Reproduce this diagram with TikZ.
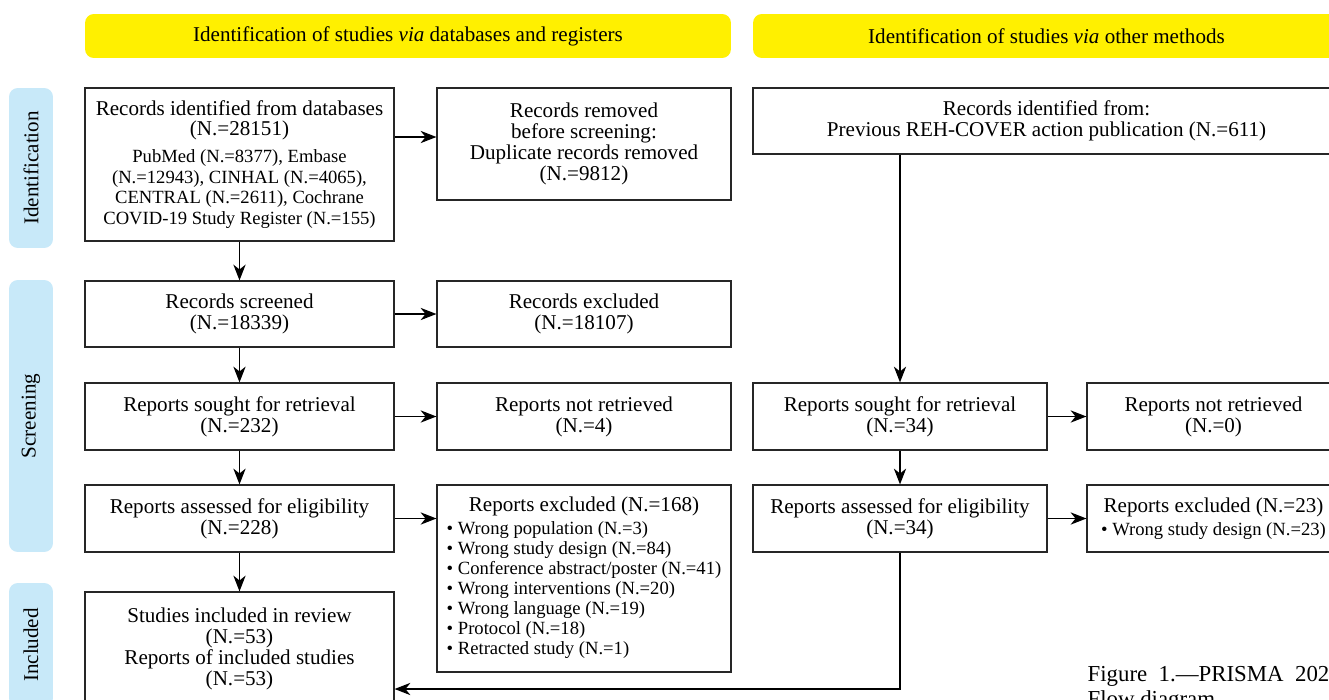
\documentclass[tikz,border=0pt]{standalone}
\usepackage{fontspec}
\setmainfont{Liberation Serif}
\usetikzlibrary{arrows.meta,positioning,calc}
\definecolor{headyellow}{RGB}{255,240,0}
\definecolor{sideblue}{RGB}{200,233,249}
\newcommand{\smalltxt}{\fontsize{10.6}{11.4}\selectfont}

\begin{document}
\begin{tikzpicture}[x=0.02cm, y=-0.02cm, line width=0.7pt, >={Stealth[length=9pt,width=7pt,inset=2.8pt]},
  main node/.style={rectangle,draw=black!85,align=center,inner sep=2pt,font=\fontsize{12}{11.9}\selectfont},
  head node/.style={rectangle,rounded corners=5pt,fill=headyellow,minimum height=0.88cm,font=\fontsize{12}{12}\selectfont},
  side node/.style={rectangle,rounded corners=5pt,fill=sideblue,rotate=90,minimum height=0.88cm,font=\fontsize{12}{12}\selectfont}]
\useasboundingbox (0,0) rectangle (1329,700);
\begin{scope}
\node[head node, minimum width=12.92cm] (headL) at (408,36) {Identification of studies \textit{via} databases and registers};
\node[head node, minimum width=11.74cm] (headR) at (1046.5,36) {Identification of studies \textit{via} other methods};
\node[side node, minimum width=3.2cm] (sideId) at (31,168) {Identification};
\node[side node, minimum width=5.44cm] (sideScr) at (31,416) {Screening};
\node[side node, minimum width=2.48cm] (sideInc) at (31,645) {Included};
% databases and registers
\node[main node, minimum width=6.18cm, minimum height=3.06cm] (ident) at (239.5,164.5) {Records identified from databases\\(N.=28151)\\[3pt]
  {\smalltxt PubMed (N.=8377), Embase}\\{\smalltxt (N.=12943), CINHAL (N.=4065),}\\{\smalltxt CENTRAL (N.=2611), Cochrane}\\{\smalltxt COVID-19 Study Register (N.=155)}};
\node[main node, minimum width=5.88cm, minimum height=2.24cm] (removed) at (584,144) {Records removed\\before screening:\\Duplicate records removed\\(N.=9812)};
\node[main node, minimum width=6.18cm, minimum height=1.32cm] (screened) at (239.5,314) {Records screened\\(N.=18339)};
\node[main node, minimum width=5.88cm, minimum height=1.32cm] (excluded) at (584,314) {Records excluded\\(N.=18107)};
\node[main node, minimum width=6.18cm, minimum height=1.34cm] (sought) at (239.5,416.5) {Reports sought for retrieval\\(N.=232)};
\node[main node, minimum width=5.88cm, minimum height=1.34cm] (notret) at (584,416.5) {Reports not retrieved\\(N.=4)};
\node[main node, minimum width=6.18cm, minimum height=1.34cm] (assessed) at (239.5,518.5) {Reports assessed for eligibility\\(N.=228)};
\node[main node, minimum width=5.88cm, minimum height=3.74cm] (repexcl) at (584,578.5) {Reports excluded (N.=168)\\[1pt]
  {\smalltxt\begin{tabular}[t]{@{}l@{}}
  \textbullet\ Wrong population (N.=3)\\
  \textbullet\ Wrong study design (N.=84)\\
  \textbullet\ Conference abstract/poster (N.=41)\\
  \textbullet\ Wrong interventions (N.=20)\\
  \textbullet\ Wrong language (N.=19)\\
  \textbullet\ Protocol (N.=18)\\
  \textbullet\ Retracted study (N.=1)
  \end{tabular}}};
\node[main node, minimum width=6.18cm, minimum height=2.28cm] (included) at (239.5,649) {Studies included in review\\(N.=53)\\Reports of included studies\\(N.=53)};
% other methods
\node[main node, minimum width=11.74cm, minimum height=1.32cm] (oident) at (1046.5,121) {Records identified from:\\Previous REH-COVER action publication (N.=611)};
\node[main node, minimum width=5.88cm, minimum height=1.34cm] (osought) at (900,416.5) {Reports sought for retrieval\\(N.=34)};
\node[main node, minimum width=5.06cm, minimum height=1.34cm] (onotret) at (1213.5,416.5) {Reports not retrieved\\(N.=0)};
\node[main node, minimum width=5.88cm, minimum height=1.34cm] (oassessed) at (900,518.5) {Reports assessed for eligibility\\(N.=34)};
\node[main node, minimum width=5.06cm, minimum height=1.34cm] (orepexcl) at (1213.5,518.5) {Reports excluded (N.=23)\\[1pt]{\smalltxt\textbullet\ Wrong study design (N.=23)}};
\node[anchor=north west, align=left, inner sep=0pt, font=\fontsize{13}{14}\selectfont] (caption) at (1087,666) {Figure\enspace 1.---PRISMA\enspace 2020\\Flow diagram};
\end{scope}
\begin{scope}
\draw[->] (ident.east |- 0,137) -- (removed.west |- 0,137);
\draw[->] (ident) -- (screened);
\draw[->] (screened) -- (excluded);
\draw[->] (screened) -- (sought);
\draw[->] (sought) -- (notret);
\draw[->] (sought) -- (assessed);
\draw[->] (assessed.east) -- (assessed.east -| repexcl.west);
\draw[->] (assessed) -- (included);
\draw[->] (osought.north |- oident.south) -- (osought.north);
\draw[->] (osought) -- (onotret);
\draw[->] (osought) -- (oassessed);
\draw[->] (oassessed) -- (orepexcl);
\draw[->] (oassessed.south) |- (included.east |- 0,689);
\end{scope}
\end{tikzpicture}
\end{document}
